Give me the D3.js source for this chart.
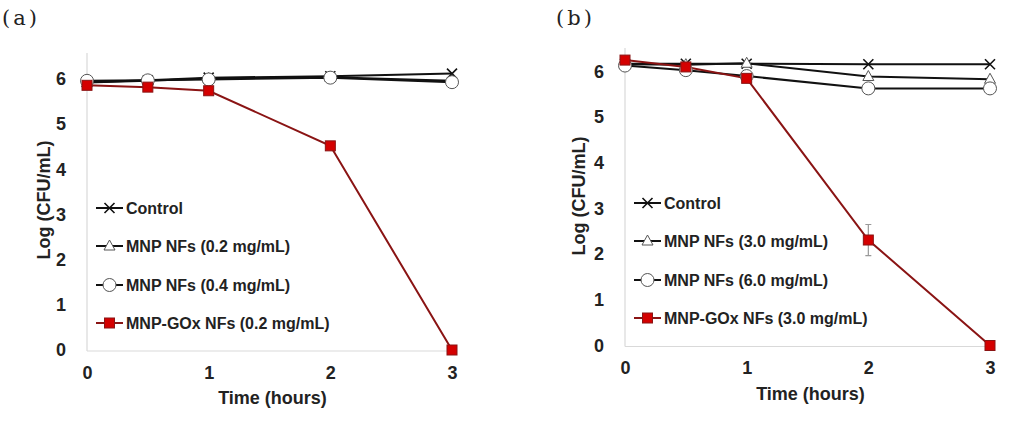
<!DOCTYPE html>
<html><head><meta charset="utf-8">
<script src="https://cdn.jsdelivr.net/npm/d3@7"></script>
<style>body{margin:0;background:#fff;} svg{display:block;}</style>
</head><body>
<svg id="chart" width="1021" height="421"></svg>
<script>
const times = [0, 0.5, 1, 2, 3];
const xTicks = [0, 1, 2, 3];
const yTicks = [0, 1, 2, 3, 4, 5, 6];

// Panel (a)
const aLabels = ["Control", "MNP NFs (0.2 mg/mL)", "MNP NFs (0.4 mg/mL)", "MNP-GOx NFs (0.2 mg/mL)"];
const aControl = [5.93, 5.97, 6.03, 6.06, 6.12];
const aMnpLow = [5.92, 5.96, 6.01, 6.04, 5.96];
const aMnpHigh = [5.96, 5.97, 5.99, 6.03, 5.93];
const aGox = [5.86, 5.82, 5.74, 4.52, 0];

// Panel (b)
const bLabels = ["Control", "MNP NFs (3.0 mg/mL)", "MNP NFs (6.0 mg/mL)", "MNP-GOx NFs (3.0 mg/mL)"];
const bControl = [6.17, 6.17, 6.17, 6.16, 6.16];
const bMnpLow = [6.16, 6.15, 6.18, 5.89, 5.83];
const bMnpHigh = [6.13, 6.03, 5.9, 5.63, 5.63];
const bGox = [6.25, 6.1, 5.85, 2.31, 0];
const bGoxErr = [0, 0, 0, 0.34, 0];

const svg = d3.select("#chart");
const FONT = "'Liberation Sans', Arial, sans-serif";

function panel(cfg) {
  const x = d3.scaleLinear().domain([0, 3]).range([cfg.x0, cfg.x3]);
  const y = d3.scaleLinear().domain([0, 6]).range([cfg.y0, cfg.y6]);
  const g = svg.append("g");

  g.append("text").attr("x", cfg.tagX).attr("y", 25)
    .attr("font-family", "'DejaVu Serif','Liberation Serif',serif")
    .attr("font-size", 21).attr("letter-spacing", 3).attr("fill", "#222").text(cfg.tag);

  g.append("line").attr("x1", x(0)).attr("x2", x(0)).attr("y1", cfg.axisTop).attr("y2", y(0) + 1)
    .attr("stroke", "#d9d9d9").attr("stroke-width", 1.2);
  g.append("line").attr("x1", x(0)).attr("x2", x(3)).attr("y1", y(0) + 1).attr("y2", y(0) + 1)
    .attr("stroke", "#d9d9d9").attr("stroke-width", 1.2);

  const ya = g.append("g").attr("transform", `translate(${x(0) - 21},0)`)
    .call(d3.axisLeft(y).tickValues(yTicks).tickSize(0).tickPadding(0).tickFormat(d3.format("d")));
  ya.select(".domain").remove();
  ya.selectAll("text").attr("font-family", FONT).attr("font-weight", "bold").attr("font-size", 18).attr("fill", "#222");

  const xa = g.append("g").attr("transform", `translate(0,${y(0) + 16})`)
    .call(d3.axisBottom(x).tickValues(xTicks).tickSize(0).tickPadding(0).tickFormat(d3.format("d")));
  xa.select(".domain").remove();
  xa.selectAll("text").attr("font-family", FONT).attr("font-weight", "bold").attr("font-size", 18).attr("fill", "#222");

  g.append("text").attr("x", (x(0) + x(3)) / 2 + 3).attr("y", y(0) + 54)
    .attr("text-anchor", "middle").attr("font-family", FONT).attr("font-weight", "bold")
    .attr("font-size", 18).attr("fill", "#222").text("Time (hours)");
  g.append("text").attr("transform", `translate(${cfg.yLabelX},${cfg.yLabelY}) rotate(-90)`)
    .attr("text-anchor", "middle").attr("font-family", FONT).attr("font-weight", "bold")
    .attr("font-size", 18).attr("fill", "#222").text("Log (CFU/mL)");

  const line = d3.line().x((d, i) => x(times[i])).y(d => y(d));
  const series = [
    { v: cfg.control, color: "#111", m: "x" },
    { v: cfg.mnpLow, color: "#111", m: "tri" },
    { v: cfg.mnpHigh, color: "#111", m: "circ" },
    { v: cfg.gox, color: "#8a1414", m: "sq", err: cfg.goxErr }
  ];

  function marker(sel, m, cx, cy) {
    if (m === "x") {
      sel.append("path").attr("d", `M${cx - 5},${cy - 5}L${cx + 5},${cy + 5}M${cx - 5},${cy + 5}L${cx + 5},${cy - 5}`)
        .attr("stroke", "#111").attr("stroke-width", 1.6).attr("fill", "none");
    } else if (m === "tri") {
      sel.append("path").attr("d", `M${cx},${cy - 6}L${cx + 5.5},${cy + 4}L${cx - 5.5},${cy + 4}Z`)
        .attr("fill", "#fff").attr("stroke", "#555").attr("stroke-width", 1);
    } else if (m === "circ") {
      sel.append("circle").attr("cx", cx).attr("cy", cy).attr("r", 6.5)
        .attr("fill", "#fff").attr("stroke", "#555").attr("stroke-width", 1);
    } else {
      sel.append("rect").attr("x", cx - 5).attr("y", cy - 5).attr("width", 10).attr("height", 10)
        .attr("fill", "#d40000").attr("stroke", "#8a1414").attr("stroke-width", 1);
    }
  }

  series.forEach(s => {
    g.append("path").attr("d", line(s.v)).attr("fill", "none").attr("stroke", s.color).attr("stroke-width", 2);
  });
  series.forEach(s => {
    if (s.err) {
      s.v.forEach((d, i) => {
        const e = s.err[i];
        if (e > 0) {
          const cx = x(times[i]);
          g.append("path").attr("d", `M${cx},${y(d + e)}V${y(d - e)}M${cx - 3},${y(d + e)}H${cx + 3}M${cx - 3},${y(d - e)}H${cx + 3}`)
            .attr("stroke", "#999").attr("stroke-width", 1.2).attr("fill", "none");
        }
      });
    }
    s.v.forEach((d, i) => marker(g, s.m, x(times[i]), y(d)));
  });

  cfg.labels.forEach((lab, i) => {
    const ly = cfg.legY[i];
    const s = series[i];
    g.append("line").attr("x1", cfg.legX).attr("x2", cfg.legX + 27).attr("y1", ly).attr("y2", ly)
      .attr("stroke", s.color).attr("stroke-width", 2);
    marker(g, s.m, cfg.legX + 13.5, ly);
    g.append("text").attr("x", cfg.legX + 30).attr("y", ly + 6).attr("font-family", FONT)
      .attr("font-weight", "bold").attr("font-size", 16).attr("fill", "#222").text(lab);
  });
}

panel({
  tag: "(a)", tagX: 2,
  x0: 87, x3: 452, y0: 350, y6: 79, axisTop: 53,
  yLabelX: 50, yLabelY: 200,
  control: aControl, mnpLow: aMnpLow, mnpHigh: aMnpHigh, gox: aGox, goxErr: null,
  labels: aLabels, legX: 96, legY: [208, 246, 285, 323]
});
panel({
  tag: "(b)", tagX: 556,
  x0: 625, x3: 990, y0: 345.5, y6: 71.5, axisTop: 48,
  yLabelX: 585, yLabelY: 196,
  control: bControl, mnpLow: bMnpLow, mnpHigh: bMnpHigh, gox: bGox, goxErr: bGoxErr,
  labels: bLabels, legX: 634, legY: [203, 241, 280, 318]
});
</script>
</body></html>
